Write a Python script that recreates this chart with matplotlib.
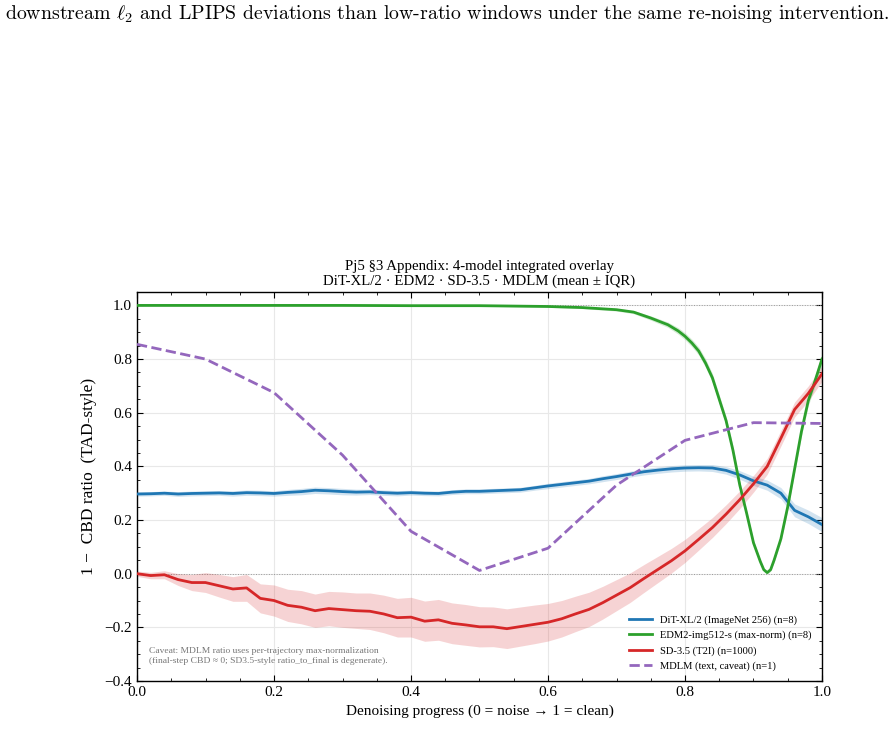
import numpy as np
import matplotlib
matplotlib.use('Agg')
import matplotlib.pyplot as plt

# shared progress grid (0 = noise, 1 = clean) for DiT and SD-3.5
progress = np.linspace(0, 1, 51)

dit_mean = [0.297, 0.298, 0.300, 0.297, 0.299, 0.300, 0.301, 0.299, 0.302, 0.301,
            0.299, 0.303, 0.306, 0.311, 0.309, 0.306, 0.304, 0.305, 0.302, 0.300,
            0.302, 0.300, 0.299, 0.304, 0.307, 0.307, 0.309, 0.311, 0.313, 0.320,
            0.327, 0.333, 0.339, 0.345, 0.354, 0.362, 0.371, 0.380, 0.386, 0.391,
            0.394, 0.395, 0.394, 0.385, 0.368, 0.346, 0.330, 0.300, 0.236, 0.212,
            0.183]
dit_iqr = [0.008, 0.008, 0.008, 0.009, 0.009, 0.009, 0.009, 0.010, 0.010, 0.010,
           0.010, 0.011, 0.012, 0.012, 0.012, 0.012, 0.011, 0.010, 0.010, 0.010,
           0.009, 0.009, 0.009, 0.009, 0.009, 0.009, 0.009, 0.009, 0.009, 0.009,
           0.010, 0.010, 0.010, 0.010, 0.011, 0.011, 0.011, 0.012, 0.012, 0.012,
           0.012, 0.012, 0.013, 0.014, 0.016, 0.017, 0.019, 0.021, 0.024, 0.025,
           0.026]

sd_mean = [0.000, -0.007, -0.004, -0.022, -0.033, -0.033, -0.045, -0.057, -0.053, -0.092,
           -0.100, -0.118, -0.125, -0.138, -0.130, -0.134, -0.138, -0.140, -0.150, -0.164,
           -0.162, -0.177, -0.172, -0.185, -0.191, -0.198, -0.198, -0.205, -0.197, -0.189,
           -0.181, -0.168, -0.150, -0.133, -0.108, -0.080, -0.052, -0.018, 0.015, 0.048,
           0.085, 0.128, 0.172, 0.222, 0.276, 0.335, 0.400, 0.505, 0.612, 0.672,
           0.745]
sd_iqr = [0.010, 0.012, 0.015, 0.022, 0.030, 0.037, 0.042, 0.046, 0.050, 0.054,
          0.058, 0.060, 0.062, 0.062, 0.064, 0.066, 0.066, 0.068, 0.070, 0.072,
          0.074, 0.075, 0.076, 0.076, 0.076, 0.075, 0.074, 0.074, 0.073, 0.072,
          0.070, 0.068, 0.066, 0.064, 0.061, 0.058, 0.055, 0.052, 0.049, 0.046,
          0.043, 0.040, 0.037, 0.035, 0.033, 0.031, 0.030, 0.029, 0.028, 0.028,
          0.028]

# EDM2 is sampled more densely around the dip
edm_x = [0.0, 0.1, 0.2, 0.3, 0.4, 0.5, 0.6, 0.65, 0.70, 0.725, 0.75, 0.775, 0.79, 0.80,
         0.81, 0.82, 0.83, 0.84, 0.85, 0.86, 0.87, 0.88, 0.89, 0.90, 0.91, 0.915, 0.92,
         0.925, 0.93, 0.94, 0.95, 0.96, 0.97, 0.98, 0.99, 1.0]
edm_mean = [1.000, 1.000, 1.000, 1.000, 0.999, 0.999, 0.996, 0.992, 0.984, 0.975, 0.953,
            0.928, 0.905, 0.885, 0.860, 0.830, 0.785, 0.730, 0.650, 0.570, 0.460, 0.330,
            0.225, 0.115, 0.045, 0.015, 0.004, 0.015, 0.050, 0.130, 0.250, 0.390, 0.530,
            0.645, 0.720, 0.800]
edm_iqr = [0.002, 0.002, 0.002, 0.002, 0.002, 0.002, 0.003, 0.004, 0.005, 0.006, 0.008,
           0.010, 0.012, 0.013, 0.014, 0.015, 0.016, 0.016, 0.016, 0.016, 0.015, 0.014,
           0.012, 0.010, 0.008, 0.006, 0.005, 0.006, 0.008, 0.010, 0.012, 0.014, 0.016,
           0.018, 0.020, 0.022]

# MDLM: single trajectory, 11 checkpoints
mdlm_x = [0.0, 0.1, 0.2, 0.3, 0.4, 0.5, 0.6, 0.7, 0.8, 0.9, 1.0]
mdlm_mean = [0.855, 0.800, 0.675, 0.442, 0.158, 0.012, 0.095, 0.330, 0.497, 0.563, 0.560]

labels = ['DiT-XL/2 (ImageNet 256) (n=8)', 'EDM2-img512-s (max-norm) (n=8)',
          'SD-3.5 (T2I) (n=1000)', 'MDLM (text, caveat) (n=1)']
colors = ['#1f77b4', '#2ca02c', '#d62728', '#9467bd']

plt.rcParams['font.family'] = ['Liberation Serif', 'DejaVu Serif']
plt.rcParams['mathtext.fontset'] = 'cm'

fig = plt.figure(figsize=(8.95, 7.44), dpi=100)

# line of the paper text above the figure
fig.text(0.5, 1 - 14/744,
         r'downstream $\ell_2$ and LPIPS deviations than low-ratio windows under the same re-noising intervention.',
         family='cmr10', fontsize=14.3, ha='center', va='center')

ax = fig.add_axes([137/895, 63/744, 685/895, 389/744])

# reference levels
ax.axhline(1.0, color='#999999', ls=':', lw=0.7, zorder=1)
ax.axhline(0.0, color='#999999', ls=':', lw=0.7, zorder=1)

# IQR bands
dit = np.array(dit_mean); dw = np.array(dit_iqr)
ax.fill_between(progress, dit - dw, dit + dw, color=colors[0], alpha=0.2, lw=0)
edm = np.array(edm_mean); ew = np.array(edm_iqr)
ax.fill_between(edm_x, edm - ew, edm + ew, color=colors[1], alpha=0.2, lw=0)
sd = np.array(sd_mean); sw = np.array(sd_iqr)
ax.fill_between(progress, sd - sw, sd + sw, color=colors[2], alpha=0.2, lw=0)

ax.plot(progress, dit_mean, color=colors[0], lw=2, label=labels[0], zorder=3)
ax.plot(edm_x, edm_mean, color=colors[1], lw=2, label=labels[1], zorder=3)
ax.plot(progress, sd_mean, color=colors[2], lw=2, label=labels[2], zorder=3)
ax.plot(mdlm_x, mdlm_mean, color=colors[3], lw=2, ls='--', label=labels[3], zorder=3)

ax.set_xlim(0, 1)
ax.set_ylim(-0.4, 1.05)
ax.set_xticks(np.arange(0, 1.01, 0.2))
ax.set_yticks(np.arange(-0.4, 1.01, 0.2))
ax.set_xticks(np.arange(0, 1.001, 0.05), minor=True)
ax.set_yticks(np.arange(-0.4, 1.05, 0.05), minor=True)
ax.tick_params(which='both', direction='in', top=True, right=True, labelsize=11)
ax.tick_params(which='major', length=4, width=0.8)
ax.tick_params(which='minor', length=2, width=0.6)
ax.grid(True, which='major', color='#e8e8e8', lw=0.8)
ax.set_axisbelow(True)
for s in ax.spines.values():
    s.set_linewidth(1.0)

ax.set_xlabel('Denoising progress (0 = noise \u2192 1 = clean)', fontsize=11, labelpad=4)
ax.set_ylabel('1 \u2212  CBD ratio  (TAD-style)', fontsize=12.5)
ax.yaxis.set_label_coords(-0.058, 0.527)
ax.set_title('Pj5 \u00a73 Appendix: 4-model integrated overlay\n'
             'DiT-XL/2 \u00b7 EDM2 \u00b7 SD-3.5 \u00b7 MDLM (mean \u00b1 IQR)',
             fontsize=10.7, pad=5, linespacing=1.2)

ax.text(0.018, 0.04,
        'Caveat: MDLM ratio uses per-trajectory max-normalization\n'
        '(final-step CBD \u2248 0; SD3.5-style ratio_to_final is degenerate).',
        transform=ax.transAxes, fontsize=6.8, color='#777777', va='bottom', ha='left',
        linespacing=1.45)

ax.legend(loc='lower right', frameon=False, fontsize=7.6, handlelength=2.2,
          borderaxespad=0.55, labelspacing=0.55)

fig.savefig('out.png', dpi=100)
